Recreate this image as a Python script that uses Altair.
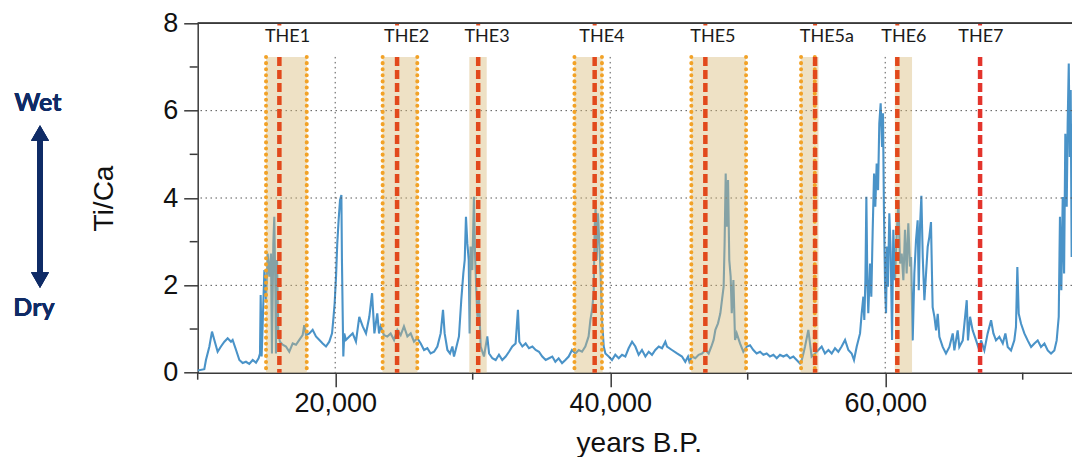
import altair as alt
import pandas as pd

# ---------------- data ----------------
years = [
    10000, 10480, 10600, 10850, 11040, 11210, 11450, 11690, 11940, 12180, 12420, 12540, 12790, 13030,
    13270, 13510, 13750, 14000, 14240, 14430, 14530, 14580, 14650, 14720, 14850, 14970, 15090, 15210,
    15330, 15400, 15500, 15570, 15650, 15690, 15770, 15860, 15980, 16180, 16420, 16660, 16910, 17150,
    17390, 17630, 17750, 17880, 18120, 18360, 18600, 18850, 19090, 19330, 19570, 19770, 19860, 19960,
    20060, 20150, 20250, 20350, 20450, 20490, 20540, 20590, 20660, 20780, 21030, 21270, 21510, 21750,
    22000, 22240, 22480, 22680, 22850,
    23060, 23190, 23310, 23550, 23790, 24030, 24280, 24520, 24760, 25000, 25250, 25490, 25730, 25970,
    26220, 26460, 26700, 26940, 27190, 27430, 27670, 27840, 27960, 28160, 28350, 28520, 28640, 28760,
    29000, 29170, 29320, 29420, 29510, 29610, 29710, 29780, 29850, 29970, 30090, 30170, 30260, 30340,
    30460, 30580, 30820, 31060, 31190, 31430, 31670, 31910, 32150, 32400, 32640, 32880, 33120, 33290,
    33390, 33610, 33850, 34090, 34340, 34580, 34820, 35060, 35310, 35550, 35790,
    36010, 36250, 36500, 36740, 36980, 37220, 37470, 37710, 37950, 38190, 38430, 38560, 38680, 38800,
    38870, 38940, 39020, 39110, 39210, 39310, 39400, 39530, 39650, 39890, 40130, 40370, 40620, 40860,
    41100, 41340, 41590, 41830, 42070, 42310, 42560, 42800, 43040, 43280, 43530, 43770, 44010, 44130,
    44490, 44860, 45220, 45460, 45660, 45760, 45950, 46190, 46430, 46680, 46920, 47160, 47360, 47520,
    47650, 47840, 48010, 48130, 48250, 48320, 48400, 48470, 48570, 48660, 48760, 48840, 48960, 49080,
    49200, 49440, 49680, 49930,
    50170, 50410, 50650, 50900, 51140, 51380, 51620, 51870, 52110, 52350, 52590, 52840, 53080, 53320,
    53560, 53800, 53930, 54050, 54170, 54410, 54530, 54650, 54900, 55140, 55380, 55620, 55870, 56110,
    56350, 56590, 56830, 57080, 57320, 57560, 57730, 57930, 58170, 58290, 58410, 58480, 58560, 58630,
    58700, 58770, 58900, 58990, 59090, 59190, 59280, 59380, 59480, 59570, 59670, 59770, 59840, 59910,
    59990, 60060, 60130, 60200, 60300, 60400, 60500, 60590, 60710, 60830, 60960, 61080, 61200, 61320,
    61440, 61560, 61680, 61800,
    61880, 62000, 62120, 62240, 62360, 62440, 62530, 62630, 62730, 62850, 62970, 63090, 63210, 63330,
    63400, 63450, 63580, 63700, 63820, 63940, 64180, 64420, 64670, 64910, 65030, 65270, 65390, 65640,
    65760, 65930, 66020, 66170, 66360, 66610, 66850, 66970, 67210, 67450, 67700, 67870, 68060, 68300,
    68550, 68740, 68910, 69150, 69390, 69510, 69610, 69710, 69880, 70120, 70360, 70610, 70850, 71090,
    71330, 71580, 71820, 72060, 72300, 72470, 72620, 72710, 72810, 72910, 73010, 73100, 73200, 73270,
    73350, 73420, 73490, 73560, 73640, 73710, 73780, 73850, 73930, 74000, 74070, 74170,
]
ti_ca = [
    0.05, 0.08, 0.29, 0.60, 0.94, 0.75, 0.48, 0.60, 0.71, 0.79, 0.71, 0.75, 0.52, 0.29,
    0.22, 0.25, 0.20, 0.29, 0.23, 0.33, 0.44, 1.78, 0.37, 1.06, 2.35, 1.67, 2.73, 2.20,
    2.73, 0.44, 2.96, 3.57, 1.82, 0.44, 2.58, 0.90, 0.71, 0.64, 0.60, 0.48, 0.67, 0.64,
    0.75, 0.86, 1.09, 0.86, 0.90, 0.98, 0.83, 0.75, 0.67, 0.60, 0.71, 0.90, 1.21, 1.59,
    2.20, 2.96, 3.50, 3.95, 4.07, 2.58, 1.44, 0.37, 0.90, 0.75, 0.83, 0.90, 0.71, 1.28,
    1.06, 0.90, 1.28, 1.82, 0.90,
    1.36, 0.90, 1.06, 0.86, 0.83, 0.90, 0.75, 0.98, 0.86, 1.06, 0.83, 0.90, 0.71, 0.79,
    0.67, 0.52, 0.56, 0.44, 0.48, 0.60, 0.90, 1.44, 0.90, 0.52, 0.44, 0.60, 0.37, 0.52,
    0.83, 1.67, 2.28, 2.58, 3.57, 2.96, 2.58, 0.90, 2.89, 2.35, 4.03, 2.73, 1.90, 1.28,
    1.67, 0.60, 0.37, 0.83, 0.44, 0.33, 0.29, 0.41, 0.29, 0.37, 0.48, 0.60, 0.67, 1.44,
    0.71, 0.60, 0.67, 0.56, 0.60, 0.52, 0.48, 0.37, 0.29, 0.33, 0.37,
    0.25, 0.33, 0.22, 0.29, 0.37, 0.52, 0.44, 0.52, 0.48, 0.60, 0.83, 1.21, 1.44, 1.82,
    3.34, 3.80, 2.58, 3.65, 2.96, 2.20, 1.21, 0.60, 0.44, 0.37, 0.29, 0.41, 0.33, 0.41,
    0.37, 0.56, 0.71, 0.60, 0.41, 0.52, 0.37, 0.48, 0.41, 0.52, 0.60, 0.56, 0.71, 0.60,
    0.52, 0.44, 0.37, 0.25, 0.37, 0.25, 0.37, 0.33, 0.41, 0.44, 0.52, 0.44, 0.60, 0.75,
    0.98, 1.13, 1.36, 1.67, 1.97, 2.96, 4.56, 3.34, 4.41, 2.58, 2.20, 1.36, 2.12, 0.75,
    0.90, 0.67, 0.48, 0.60,
    0.63, 0.52, 0.44, 0.48, 0.41, 0.44, 0.37, 0.41, 0.33, 0.41, 0.37, 0.41, 0.33, 0.37,
    0.29, 0.21, 0.29, 0.44, 0.60, 0.98, 0.67, 0.37, 0.44, 0.52, 0.60, 0.44, 0.52, 0.44,
    0.56, 0.48, 0.60, 0.75, 0.52, 0.44, 0.29, 0.60, 0.90, 1.36, 1.74, 1.21, 2.12, 4.03,
    2.12, 1.36, 2.50, 1.74, 3.27, 4.56, 3.80, 4.79, 4.18, 5.71, 6.17, 5.17, 5.94, 3.65,
    1.97, 1.36, 2.89, 1.97, 3.65, 2.73, 0.75, 3.27, 2.12, 3.11, 3.95, 2.50, 2.73, 2.12,
    3.27, 2.27, 3.42, 2.43,
    2.65, 0.74, 2.27, 3.03, 3.49, 1.89, 3.34, 4.05, 2.65, 1.66, 2.27, 2.88, 3.11, 3.45,
    2.27, 1.50, 1.28, 0.97, 1.35, 0.82, 0.59, 0.44, 0.59, 0.90, 0.51, 0.97, 0.59, 0.74,
    1.12, 1.66, 0.74, 1.28, 0.97, 0.74, 0.51, 0.74, 0.51, 0.90, 1.20, 0.90, 0.74, 0.82,
    0.67, 0.90, 0.59, 0.51, 0.74, 1.05, 2.42, 1.35, 1.12, 0.90, 0.74, 0.59, 0.67, 0.74,
    0.59, 0.67, 0.51, 0.44, 0.51, 0.74, 1.28, 3.57, 1.89, 4.02, 2.27, 5.47, 3.80, 5.70,
    7.08, 4.94, 6.47, 2.65, 5.70, 3.80, 5.93, 1.89, 4.56, 1.12, 0.21, 0.36,
]

band_start = [14970, 23450, 29750, 37400, 45900, 53850, 60700]
band_end = [17930, 25970, 31020, 39450, 49880, 55150, 61950]
dotted_x = [14970, 17930, 23450, 25970, 37400, 39400, 45900, 49880, 53880, 54880]
event_names = ["THE1", "THE2", "THE3", "THE4", "THE5", "THE5a", "THE6", "THE7"]
event_x = [15940, 24500, 30400, 38870, 46920, 54900, 60880, 66900]
label_x = [16530, 25200, 31040, 39400, 47470, 55760, 61360, 66960]
event_color = ["#E2491C", "#E2491C", "#E2491C", "#E2491C", "#E2491C", "#E2491C", "#E2491C", "#E3342C"]

y_major = [0, 2, 4, 6, 8]
y_minor = [1, 3, 5, 7]
x_major = [20000, 40000, 60000]
x_minor = [10000, 30000, 50000, 70000]
h_grid = [2, 4, 6]
v_grid = [20000, 40000, 60000]

# ---------------- chart ----------------
W, H = 874.3, 349.4
FONT = "Liberation Sans"
AX = "#3a3a3a"
xs = alt.Scale(domain=[10000, 73585], nice=False, zero=False)
ys = alt.Scale(domain=[0, 8], nice=False, zero=False)

AXIS_X = alt.Axis(
    values=x_major, format=",d", tickSize=14, tickWidth=1.5, tickColor=AX,
    domainColor=AX, domainWidth=1.5, grid=False,
    labelFont=FONT, labelFontSize=27, labelColor="#111", labelPadding=4,
    title="years B.P.", titleFont=FONT, titleFontSize=28, titleFontWeight="normal",
    titleColor="#111", titleBaseline="alphabetic", titleY=79, titleX=(1080 - 197.7) / 2,
)
AXIS_Y = alt.Axis(
    values=y_major, tickSize=14, tickWidth=1.5, tickColor=AX,
    domainColor=AX, domainWidth=1.5, grid=False,
    labelFont=FONT, labelFontSize=27, labelColor="#111", labelPadding=6,
    title="Ti/Ca", titleFont=FONT, titleFontSize=28, titleFontWeight="normal",
    titleColor="#111", titleAngle=270, titleBaseline="alphabetic", titleAlign="center",
    titleX=-85, titleY=H / 2,
)

series = pd.DataFrame({"year": years, "value": ti_ca})
bands = pd.DataFrame({"start": band_start, "end": band_end})
dots = pd.DataFrame({"x": dotted_x})
events = pd.DataFrame({"name": event_names, "x": event_x, "lx": label_x, "c": event_color})
ymin_df = pd.DataFrame({"v": y_minor})
xmin_df = pd.DataFrame({"v": x_minor})
hg_df = pd.DataFrame({"v": h_grid})
vg_df = pd.DataFrame({"v": v_grid})

BAND_TOP = 7.23


def xf(field):
    return alt.X(field, scale=xs, axis=AXIS_X)


def yf(field):
    return alt.Y(field, scale=ys, axis=AXIS_Y)


def yd(v):
    return alt.YDatum(v, scale=ys, axis=AXIS_Y)


line = alt.Chart(series).mark_line(color="#4A93C8", strokeWidth=2.1, clip=True).encode(
    x=xf("year:Q"), y=yf("value:Q")
)

hgrid = alt.Chart(hg_df).mark_rule(color="#555", strokeWidth=1, strokeDash=[1.5, 3.5]).encode(
    y=yf("v:Q")
)
vgrid = alt.Chart(vg_df).mark_rule(color="#555", strokeWidth=1, strokeDash=[1.5, 3.5]).encode(
    x=xf("v:Q"), y=yd(BAND_TOP), y2=alt.Y2Datum(0)
)

band_layer = alt.Chart(bands).mark_rect(color="#D6B874", opacity=0.42).encode(
    x=xf("start:Q"), x2="end:Q", y=yd(BAND_TOP), y2=alt.Y2Datum(0)
)

dotted = alt.Chart(dots).mark_rule(
    color="#F2A227", strokeWidth=4, strokeDash=[0.1, 6.0], strokeCap="round"
).encode(x=xf("x:Q"), y=yd(BAND_TOP), y2=alt.Y2Datum(0))

red = alt.Chart(events).mark_rule(strokeWidth=4.5, strokeDash=[9, 4]).encode(
    x=xf("x:Q"), y=yd(BAND_TOP), y2=alt.Y2Datum(0), color=alt.Color("c:N", scale=None),
)
red_top = alt.Chart(events).mark_rule(strokeWidth=4).encode(
    x=xf("x:Q"), y=yd(8.0), y2=alt.Y2Datum(7.95), color=alt.Color("c:N", scale=None),
)

top_line = alt.Chart(hg_df).mark_rule(color=AX, strokeWidth=1.5).encode(y=yd(8))

labels = alt.Chart(events).mark_text(
    font="Lato", fontSize=18, color="#1a1a1a", baseline="middle", align="center"
).encode(x=xf("lx:Q"), y=yd(7.69), text="name:N")

y_minor_ticks = alt.Chart(ymin_df).mark_rule(color=AX, strokeWidth=1.5).encode(
    y=yf("v:Q"), x=alt.value(-8), x2=alt.value(0)
)
x_minor_ticks = alt.Chart(xmin_df).mark_rule(color=AX, strokeWidth=1.5).encode(
    x=xf("v:Q"), y=alt.value(H), y2=alt.value(H + 7)
)

NAVY = "#0F2B66"
ARROW_X = -157.7
shaft = alt.Chart(hg_df).mark_rule(color=NAVY, strokeWidth=6).encode(
    x=alt.value(ARROW_X), y=yd(5.35), y2=alt.Y2Datum(2.25)
)
head_up = alt.Chart(hg_df).mark_point(shape="triangle-up", filled=True, size=324, color=NAVY, opacity=1).encode(
    x=alt.value(ARROW_X), y=yd(5.49)
)
head_down = alt.Chart(hg_df).mark_point(shape="triangle-down", filled=True, size=324, color=NAVY, opacity=1).encode(
    x=alt.value(ARROW_X), y=yd(2.12)
)
wet = alt.Chart(hg_df).mark_text(
    text="Wet", font="Lato", fontSize=25, fontWeight="bold", color=NAVY, align="center", baseline="middle"
).encode(x=alt.value(-159.7), y=yd(6.18))
dry = alt.Chart(hg_df).mark_text(
    text="Dry", font="Lato", fontSize=25, fontWeight="bold", color=NAVY, align="center", baseline="middle"
).encode(x=alt.value(-163.7), y=yd(1.48))

chart = alt.layer(
    line, hgrid, vgrid, band_layer, dotted, red, red_top, top_line, labels,
    y_minor_ticks, x_minor_ticks, shaft, head_up, head_down, wet, dry,
).properties(
    width=W, height=H,
    padding={"left": 189.7, "top": 15.3, "right": 0, "bottom": 84.3},
    autosize=alt.AutoSizeParams(type="none"),
).configure_view(stroke=None)

chart.save("out.html", embed_options={"renderer": "svg", "actions": False})
